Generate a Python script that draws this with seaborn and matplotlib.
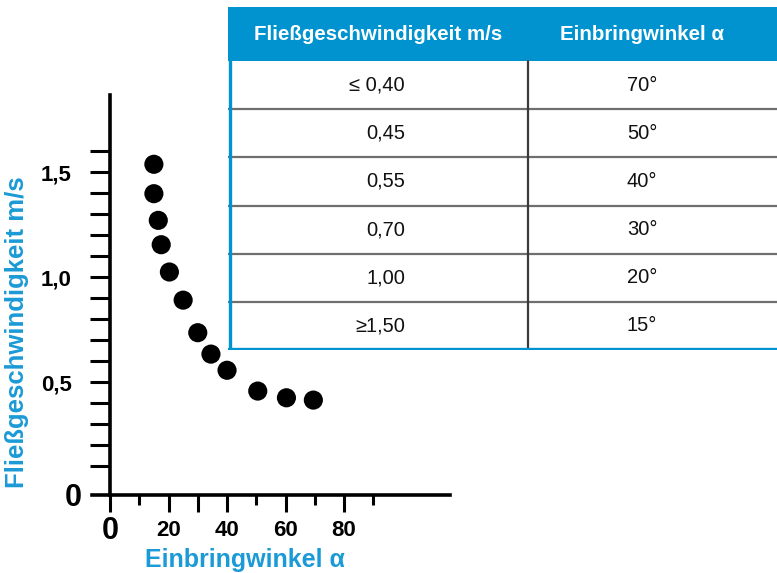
import numpy as np
import seaborn as sns
import matplotlib.pyplot as plt
from matplotlib.ticker import FixedLocator

# data
angle = [15, 15, 16.5, 17.5, 20.3, 25, 30, 34.5, 40, 50.5, 60.3, 69.5]
speed = [1.537, 1.397, 1.27, 1.154, 1.024, 0.89, 0.735, 0.633, 0.556, 0.457, 0.425, 0.414]

# table values
tab_speed = ["≤ 0,40", "0,45", "0,55", "0,70", "1,00", "≥1,50"]
tab_angle = ["70°", "50°", "40°", "30°", "20°", "15°"]
tab_header = ["Fließgeschwindigkeit m/s", "Einbringwinkel α"]

blue = "#0093d0"
label_blue = "#1a9ad6"

sns.set_style("ticks")
plt.rcParams["font.family"] = ["Liberation Sans", "DejaVu Sans"]

W, H = 777, 573
fig = plt.figure(figsize=(W / 100, H / 100), dpi=100)

def px_rect(x0, y0, x1, y1):
    return [x0 / W, 1 - y1 / H, (x1 - x0) / W, (y1 - y0) / H]

# main scatter axes
ax = fig.add_axes(px_rect(92, 95, 450, 495))
sns.scatterplot(x=angle, y=speed, color="black", s=190, edgecolor="none", ax=ax)
ax.set_xlim(-6.15, 116.2)
ax.set_ylim(-0.038, 1.867)

for s in ["top", "right"]:
    ax.spines[s].set_visible(False)
ax.spines["left"].set_position(("data", 0))
for s in ["left", "bottom"]:
    ax.spines[s].set_linewidth(2.6)
    ax.spines[s].set_color("black")

# x ticks
ax.xaxis.set_major_locator(FixedLocator([0, 20, 30, 40, 60, 80]))
ax.set_xticklabels(["0", "20", "", "40", "60", "80"])
ax.xaxis.set_minor_locator(FixedLocator([10, 50, 70, 90]))
ax.tick_params(axis="x", which="major", bottom=True, direction="out", length=12, width=2.2,
               pad=6, labelsize=16, color="black", labelcolor="black")
ax.tick_params(axis="x", which="minor", bottom=True, direction="out", length=7, width=2.2,
               color="black")
for lab in ax.get_xticklabels():
    lab.set_fontweight("bold")
ax.get_xticklabels()[0].set_fontsize(22)
ax.xaxis.get_major_ticks()[0].set_pad(3)

# y ticks
ax.yaxis.set_major_locator(FixedLocator([-0.038, 0.5, 1.0, 1.5]))
ax.set_yticklabels(["0", "0,5", "1,0", "1,5"])
ax.yaxis.set_minor_locator(FixedLocator([0.1, 0.2, 0.3, 0.4, 0.6, 0.7, 0.8, 0.9,
                                         1.1, 1.2, 1.3, 1.4, 1.6]))
ax.tick_params(axis="y", which="both", left=True, direction="out", length=14.4, width=2.2,
               pad=13, labelsize=16, color="black", labelcolor="black")
for lab in ax.get_yticklabels():
    lab.set_fontweight("bold")
ax.get_yticklabels()[0].set_fontsize(22)
ax.yaxis.get_major_ticks()[0].tick1line.set_visible(False)
ax.yaxis.get_major_ticks()[0].set_pad(6)

ax.set_xlabel("Einbringwinkel α", color=label_blue, fontsize=18, fontweight="bold")
ax.xaxis.set_label_coords((245 - 92) / (450 - 92), -(560 - 495) / 400, transform=ax.transAxes)
ax.set_ylabel("Fließgeschwindigkeit m/s", color=label_blue, fontsize=18.5, fontweight="bold")
ax.yaxis.set_label_coords(-(92 - 17) / 358, (495 - 332) / 400, transform=ax.transAxes)
ax.yaxis.label.set_va("center")
ax.xaxis.label.set_va("center")

# table axes (right column runs past the figure edge)
tx0, tx1, ty0, ty1 = 228, 830, 7, 350
tab = fig.add_axes(px_rect(tx0, ty0, tx1, ty1))
tab.set_xlim(0, tx1 - tx0)
tab.set_ylim(ty1 - ty0, 0)
tab.axis("off")

header_h = 54
row_h = (ty1 - ty0 - header_h) / len(tab_speed)
col_x = 300

tab.fill_between([0, tx1 - tx0], 0, header_h, color=blue, linewidth=0)
tab.text(150, header_h / 2, tab_header[0], color="white", fontsize=14.8,
         fontweight="bold", ha="center", va="center")
tab.text(414, header_h / 2, tab_header[1], color="white", fontsize=14.8,
         fontweight="bold", ha="center", va="center")

for i, (sp, an) in enumerate(zip(tab_speed, tab_angle)):
    yc = header_h + (i + 0.5) * row_h
    tab.text(177, yc, sp, color="#111111", fontsize=14.5, ha="right", va="center")
    tab.text(414, yc, an, color="#111111", fontsize=14.5, ha="center", va="center")
    if i > 0:
        yl = header_h + i * row_h
        tab.plot([0, tx1 - tx0], [yl, yl], color="#6e6e6e", linewidth=1.6,
                 solid_capstyle="butt")

tab.plot([col_x, col_x], [header_h, ty1 - ty0], color="#3a3a3a", linewidth=1.6)
tab.plot([1.5, 1.5], [0, ty1 - ty0 - 1], color=blue, linewidth=2.4)
tab.plot([0, tx1 - tx0], [ty1 - ty0 - 1.5, ty1 - ty0 - 1.5], color=blue, linewidth=2.4)

fig.savefig("out.png", dpi=100)
